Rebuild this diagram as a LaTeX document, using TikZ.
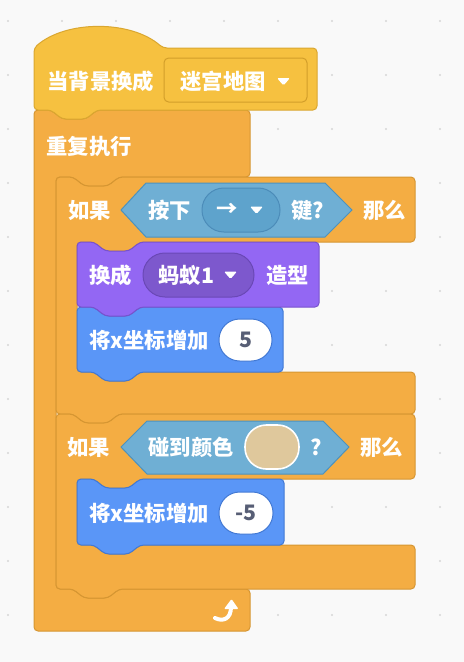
\documentclass[tikz,border=0pt]{standalone}
\usepackage{fontspec}
\setmainfont{Noto Sans CJK SC}

% notch cut into a top edge (going right), tab under a bottom edge (going left)
\newcommand{\notchR}{-- ++(11,9) -- ++(24,0) -- ++(11,-9)}
\newcommand{\tabL}{-- ++(-11,9) -- ++(-24,0) -- ++(-11,-9)}
% small dropdown arrow, top left corner at #1,#2
\newcommand{\dropdn}[2]{\fill[white, rounded corners=1pt] (#1,#2) -- ++(13,0) -- ++(-6.5,7.5) -- cycle;}

\tikzset{every picture/.style={line width=0.75pt}}
\tikzset{
  hatblk/.style={draw={rgb, 255:red, 218; green, 167; blue, 48}, fill={rgb, 255:red, 246; green, 193; blue, 64}, rounded corners=3pt},
  ctrlblk/.style={draw={rgb, 255:red, 214; green, 150; blue, 50}, fill={rgb, 255:red, 244; green, 173; blue, 67}, rounded corners=3pt},
  looksblk/.style={draw={rgb, 255:red, 120; green, 82; blue, 205}, fill={rgb, 255:red, 147; green, 103; blue, 243}, rounded corners=3pt},
  motionblk/.style={draw={rgb, 255:red, 66; green, 121; blue, 212}, fill={rgb, 255:red, 90; green, 150; blue, 247}, rounded corners=3pt},
  senseblk/.style={draw={rgb, 255:red, 76; green, 146; blue, 190}, fill={rgb, 255:red, 111; green, 175; blue, 212}},
  lbl/.style={font=\bfseries\fontsize{16}{19}\selectfont, text=white, inner sep=0pt, anchor=west},
  numlbl/.style={font=\bfseries\fontsize{16}{19}\selectfont, text={rgb, 255:red, 87; green, 94; blue, 117}, inner sep=0pt},
}

\begin{document}
\begin{tikzpicture}[x=0.75pt,y=0.75pt,yscale=-1,xscale=1]
\useasboundingbox (0,0) rectangle (464,662);

% background and dot grid
\fill[fill={rgb, 255:red, 249; green, 249; blue, 249}] (0,0) rectangle (464,662);
\foreach \i in {0,...,8}
  \foreach \j in {0,...,12}
    \fill[fill={rgb, 255:red, 214; green, 214; blue, 214}] (8+54*\i,21+54*\j) circle (1.2);

%Shape: forever
\draw[ctrlblk] (34,110) -- (51,110) \notchR -- (250,110) -- (250,177) -- (119,177) \tabL -- (56,177) -- (56,589) -- (73,589) \notchR -- (250,589) -- (250,631) -- (34,631) -- cycle;
%Shape: hat
\draw[hatblk] (34,48) .. controls (66,20) and (131,20) .. (163,48) -- (317,48) -- (317,110) -- (97,110) \tabL -- (34,110) -- cycle;
%Shape: if 1
\draw[ctrlblk] (56,177) -- (73,177) \notchR -- (415,177) -- (415,242) -- (140,242) \tabL -- (77,242) -- (77,372) -- (94,372) \notchR -- (415,372) -- (415,414) -- (119,414) \tabL -- (56,414) -- cycle;
%Shape: if 2
\draw[ctrlblk] (56,414) -- (73,414) \notchR -- (415,414) -- (415,479) -- (140,479) \tabL -- (77,479) -- (77,545) -- (94,545) \notchR -- (415,545) -- (415,589) -- (119,589) \tabL -- (56,589) -- cycle;
%Shape: move x by 5
\draw[motionblk] (77,307) -- (94,307) \notchR -- (283,307) -- (283,372) -- (140,372) \tabL -- (77,372) -- cycle;
%Shape: switch costume
\draw[looksblk] (77,242) -- (94,242) \notchR -- (319,242) -- (319,307) -- (140,307) \tabL -- (77,307) -- cycle;
%Shape: move x by -5
\draw[motionblk] (77,479) -- (94,479) \notchR -- (284,479) -- (284,545) -- (140,545) \tabL -- (77,545) -- cycle;

%Shape: key pressed hexagon
\draw[senseblk] (121,210) -- (146,183) -- (325,183) -- (352,210) -- (325,237) -- (146,237) -- cycle;
%Shape: touching colour hexagon
\draw[senseblk] (121,447) -- (147,421) -- (323,421) -- (349,447) -- (323,474) -- (147,474) -- cycle;

%Shape: menus and inputs
\draw[draw={rgb, 255:red, 210; green, 158; blue, 42}, fill={rgb, 255:red, 246; green, 193; blue, 64}, rounded corners=3.5pt] (164,58) rectangle (307,102);
\draw[draw={rgb, 255:red, 76; green, 140; blue, 185}, fill={rgb, 255:red, 94; green, 163; blue, 204}, rounded corners=16.4pt] (202,188) rectangle (280,232);
\draw[draw={rgb, 255:red, 106; green, 72; blue, 182}, fill={rgb, 255:red, 125; green, 88; blue, 205}, rounded corners=16.4pt] (143,253) rectangle (254,297);
\draw[draw={rgb, 255:red, 66; green, 121; blue, 212}, fill=white, rounded corners=15.5pt] (219,319) rectangle (272,361);
\draw[draw=white, line width=1.2pt, fill={rgb, 255:red, 223; green, 200; blue, 156}, rounded corners=16pt] (245,425) rectangle (299,469);
\draw[draw={rgb, 255:red, 66; green, 121; blue, 212}, fill=white, rounded corners=15.5pt] (219,492) rectangle (273,534);

% dropdown arrows
\dropdn{277}{78}
\dropdn{250}{206.5}
\dropdn{224}{271.5}

% loop arrow
\draw[white, line width=3pt, line cap=round] (215,618) .. controls (223,622) and (231,619) .. (231,607);
\fill[white, rounded corners=0.8pt] (224,609) -- (231.5,599) -- (238.5,609) -- cycle;

% Text Node
\node[lbl] (hatLbl) at (47,81.5) {当背景换成};
\node[lbl] (mazeLbl) at (180,81.5) {迷宫地图};
\node[lbl] (foreverLbl) at (46,146) {重复执行};
\node[lbl] (ifOneLbl) at (68,210) {如果};
\node[lbl] (keyLbl) at (148,210) {按下};
\node[lbl] (arrowLbl) at (216,210) {→};
\node[lbl] (keyQLbl) at (291,210) {键?};
\node[lbl] (thenOneLbl) at (363,210) {那么};
\node[lbl] (costLbl) at (89,275) {换成};
\node[lbl] (antLbl) at (158,275) {蚂蚁1};
\node[lbl] (shapeLbl) at (266,275) {造型};
\node[lbl] (moveOneLbl) at (89,340) {将x坐标增加};
\node[numlbl] (numOne) at (246,340) {5};
\node[lbl] (ifTwoLbl) at (67,447) {如果};
\node[lbl] (touchLbl) at (148,447) {碰到颜色};
\node[lbl, anchor=center] (touchQLbl) at (316,447) {?};
\node[lbl] (thenTwoLbl) at (360,447) {那么};
\node[lbl] (moveTwoLbl) at (89,513) {将x坐标增加};
\node[numlbl] (numTwo) at (246,513) {-5};

\end{tikzpicture}
\end{document}
